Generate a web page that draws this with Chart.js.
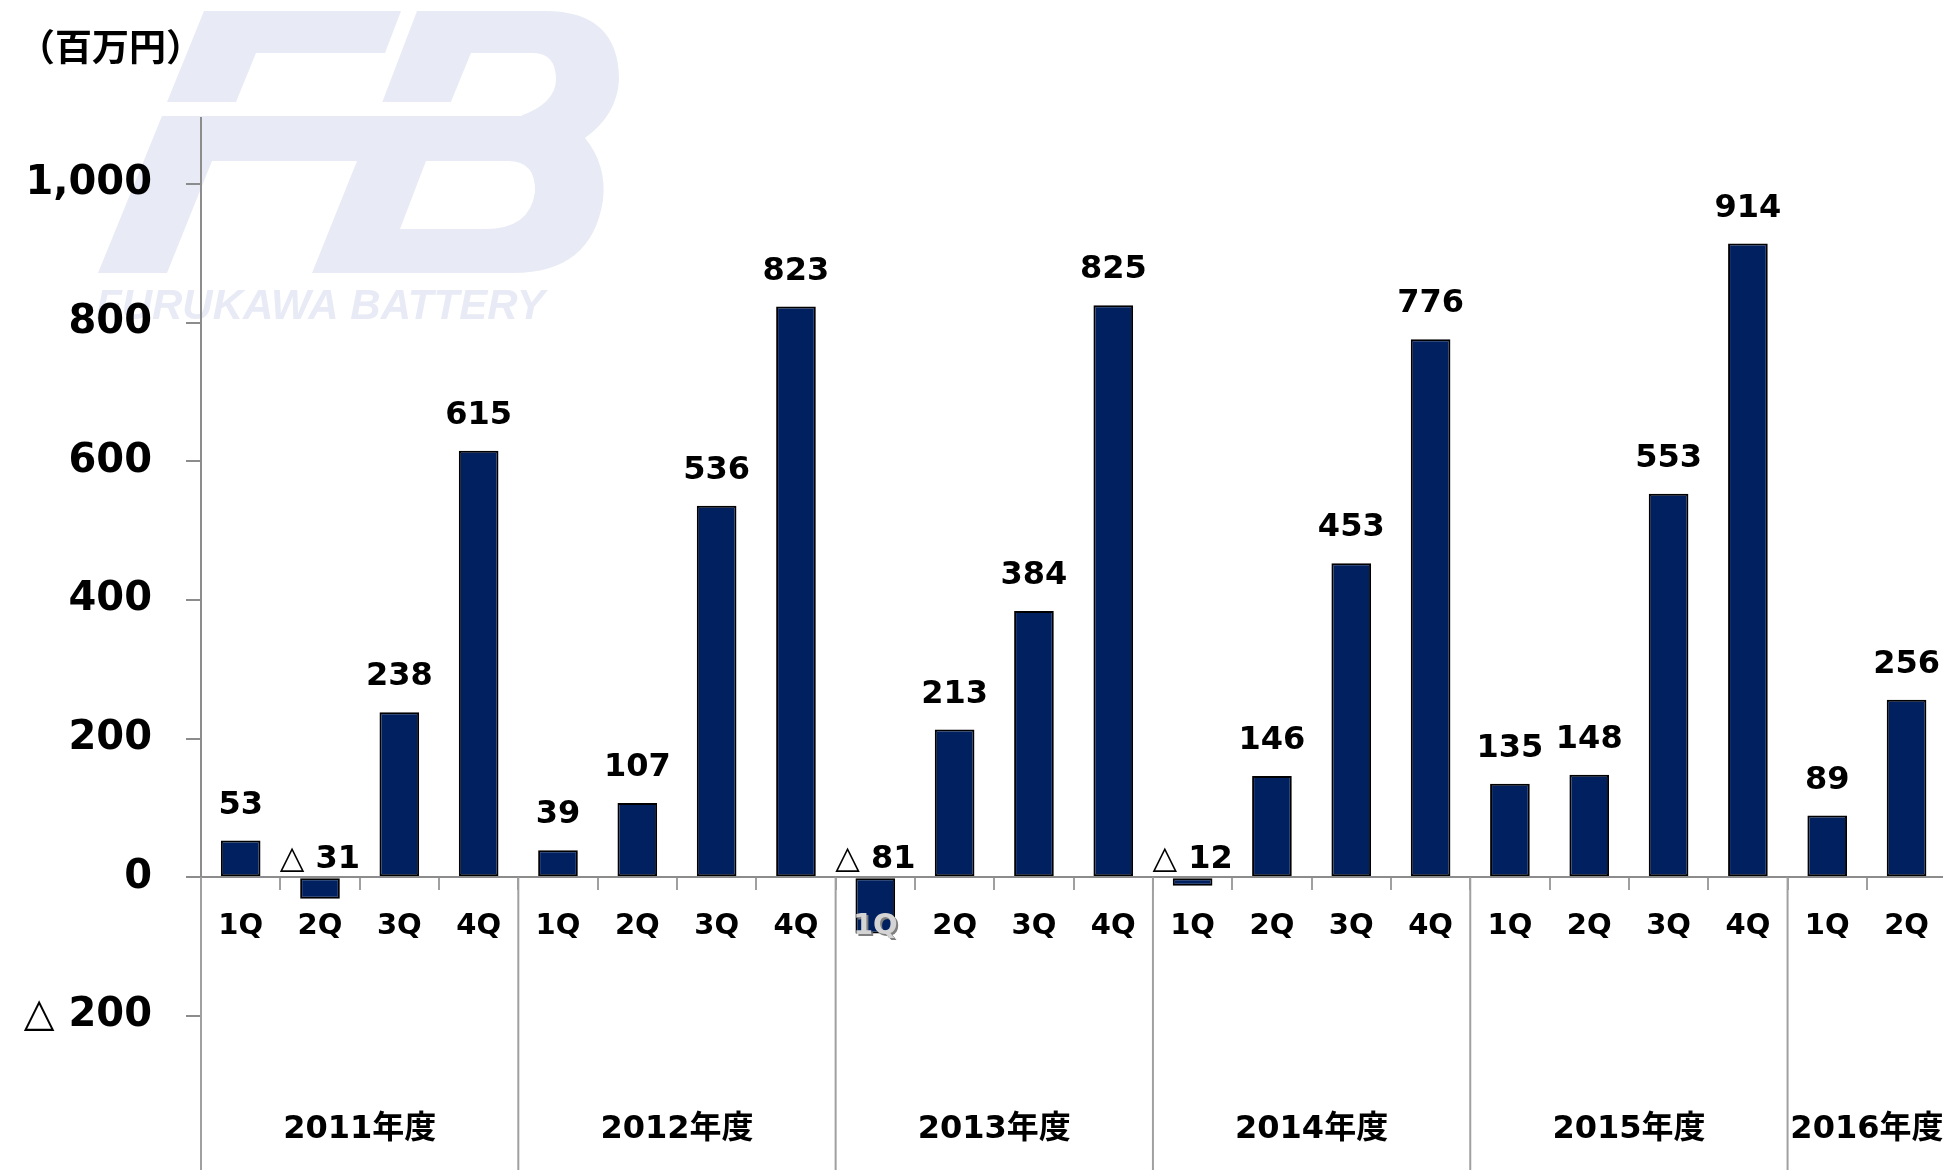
<!DOCTYPE html>
<html lang="ja">
<head>
<meta charset="utf-8">
<title>四半期別 営業利益</title>
<script src="https://cdn.jsdelivr.net/npm/chart.js@4.4.1/dist/chart.umd.min.js"></script>
<style>
  html, body { margin: 0; padding: 0; background: #fff; overflow: hidden; }
  #wrap { position: relative; width: 1949px; height: 1170px; }
</style>
</head>
<body>
<div id="wrap"><canvas id="profitChart" width="1949" height="1170"></canvas></div>
<script>
// --- data ---
const quarters = [
  "1Q", "2Q", "3Q", "4Q",
  "1Q", "2Q", "3Q", "4Q",
  "1Q", "2Q", "3Q", "4Q",
  "1Q", "2Q", "3Q", "4Q",
  "1Q", "2Q", "3Q", "4Q",
  "1Q", "2Q"
];
const fiscalYears = ["2011年度", "2012年度", "2013年度", "2014年度", "2015年度", "2016年度"];
const quartersPerYear = [4, 4, 4, 4, 4, 2];
const profit = [
  53, -31, 238, 615,
  39, 107, 536, 823,
  -81, 213, 384, 825,
  -12, 146, 453, 776,
  135, 148, 553, 914,
  89, 256
];
const yTicks = [-200, 0, 200, 400, 600, 800, 1000];
const unitLabel = "（百万円）";
const logoText = "FURUKAWA BATTERY";

// --- styles ---
const FONT = '"DejaVu Sans", "Noto Sans CJK JP", sans-serif';
const barColor = "#002060";
const axisColor = "#8c8c8c";
const logoColor = "#e8ebf5";

const minusText = (v) => (v < 0 ? "△ " + Math.abs(v) : v.toLocaleString("en-US"));

// background logo (decoration only)
function drawLogo(ctx) {
  ctx.save();
  ctx.fillStyle = logoColor;
  ctx.beginPath();
  ctx.moveTo(204, 11); ctx.lineTo(401, 11); ctx.lineTo(385, 53);
  ctx.lineTo(256, 53); ctx.lineTo(236, 102); ctx.lineTo(167, 102);
  ctx.closePath(); ctx.fill();

  ctx.beginPath();
  ctx.moveTo(98, 273); ctx.lineTo(162, 116); ctx.lineTo(377, 116);
  ctx.lineTo(417, 11); ctx.lineTo(545, 11);
  ctx.quadraticCurveTo(619, 11, 619, 80);
  ctx.quadraticCurveTo(617, 115, 585, 138);
  ctx.quadraticCurveTo(607, 165, 603, 200);
  ctx.quadraticCurveTo(592, 273, 513, 273);
  ctx.lineTo(312, 273); ctx.lineTo(357, 161); ctx.lineTo(212, 161);
  ctx.lineTo(167, 273);
  ctx.closePath(); ctx.fill();

  ctx.fillStyle = "#fff";
  ctx.fillRect(0, 102, 522, 14);
  ctx.beginPath();
  ctx.moveTo(450, 104); ctx.lineTo(471, 53); ctx.lineTo(533, 53);
  ctx.quadraticCurveTo(556, 53, 556, 80);
  ctx.quadraticCurveTo(555, 104, 520, 116); ctx.lineTo(445, 116);
  ctx.closePath(); ctx.fill();
  ctx.beginPath();
  ctx.moveTo(426, 161); ctx.lineTo(508, 161);
  ctx.quadraticCurveTo(536, 161, 535, 192);
  ctx.quadraticCurveTo(530, 229, 485, 229); ctx.lineTo(400, 229);
  ctx.closePath(); ctx.fill();

  ctx.fillStyle = logoColor;
  ctx.font = 'italic bold 42px "Liberation Sans", sans-serif';
  ctx.textBaseline = "alphabetic";
  ctx.fillText(logoText, 96, 319);
  ctx.restore();
}

const backdrop = {
  id: "backdrop",
  beforeDraw(chart) {
    const ctx = chart.ctx;
    drawLogo(ctx);
    ctx.save();
    ctx.font = 'bold 37px "Noto Sans CJK JP", sans-serif';
    ctx.fillStyle = "#000";
    ctx.textBaseline = "middle";
    ctx.fillText(unitLabel, 18, 47);
    ctx.restore();
  }
};

const barLabels = {
  id: "barLabels",
  afterDatasetsDraw(chart) {
    const { ctx } = chart;
    const zeroY = chart.scales.y.getPixelForValue(0);
    const meta = chart.getDatasetMeta(0);
    ctx.save();
    ctx.font = "bold 32px " + FONT;
    ctx.fillStyle = "#000";
    ctx.textAlign = "center";
    ctx.textBaseline = "alphabetic";
    meta.data.forEach((bar, i) => {
      const v = profit[i];
      const ty = v < 0 ? zeroY - 9 : bar.y - 27;
      ctx.fillText(minusText(v), bar.x, ty);
    });
    ctx.restore();
  }
};

// year dividers and fiscal-year captions under the quarter labels
const yearAxis = {
  id: "yearAxis",
  afterDraw(chart) {
    const { ctx, scales: { x, y }, chartArea } = chart;
    const zeroY = y.getPixelForValue(0);
    const bottom = chart.height;
    ctx.save();

    // quarter labels hidden by a negative bar are shown again in light grey
    const items = x.getLabelItems(chartArea);
    const meta = chart.getDatasetMeta(0);
    items.forEach((it, i) => {
      const bar = meta.data[i];
      if (!bar || bar.y < zeroY + 30) return;
      const [tx, ty] = it.options.translation;
      ctx.font = it.font.string;
      ctx.textAlign = it.options.textAlign;
      ctx.textBaseline = it.options.textBaseline;
      ctx.fillStyle = "#7f7f7f";
      ctx.fillText(it.label, tx + 2, ty + it.textOffset + 2);
      ctx.fillStyle = "#d4d4d4";
      ctx.fillText(it.label, tx, ty + it.textOffset);
    });

    ctx.strokeStyle = "#a0a0a0";
    ctx.lineWidth = 2;
    ctx.beginPath();
    ctx.moveTo(chartArea.left, zeroY);
    ctx.lineTo(chartArea.left, bottom);
    ctx.font = "bold 32px " + FONT;
    ctx.fillStyle = "#000";
    ctx.textAlign = "center";
    ctx.textBaseline = "middle";
    let start = 0;
    fiscalYears.forEach((label, k) => {
      const end = start + quartersPerYear[k] - 1;
      const cx = (x.getPixelForValue(start) + x.getPixelForValue(end)) / 2;
      ctx.fillText(label, cx, 1130);
      if (end < quarters.length - 1) {
        const dx = (x.getPixelForValue(end) + x.getPixelForValue(end + 1)) / 2;
        ctx.moveTo(dx, zeroY);
        ctx.lineTo(dx, bottom);
      }
      start = end + 1;
    });
    ctx.stroke();
    ctx.restore();
  }
};

const ctx = document.getElementById("profitChart").getContext("2d");
new Chart(ctx, {
  type: "bar",
  data: {
    labels: quarters,
    datasets: [{
      label: "営業利益",
      data: profit,
      backgroundColor: barColor,
      borderColor: "#000",
      borderWidth: 2,
      borderSkipped: false,
      barPercentage: 0.5,
      categoryPercentage: 1.0
    }]
  },
  options: {
    responsive: false,
    animation: false,
    layout: { padding: { top: 118, bottom: 154, left: 0, right: 1 } },
    scales: {
      x: {
        type: "category",
        position: { y: 0 },
        offset: true,
        grid: { offset: true, drawOnChartArea: false, tickLength: 12, color: "#a0a0a0", lineWidth: 2 },
        border: { color: axisColor, width: 2, z: 1 },
        ticks: {
          autoSkip: false,
          maxRotation: 0,
          padding: 20,
          color: "#000",
          font: { family: FONT, size: 29, weight: "bold" }
        }
      },
      y: {
        min: -200,
        max: 1095,
        afterBuildTicks: (scale) => { scale.ticks = yTicks.map((v) => ({ value: v })); },
        afterFit: (scale) => { scale.width = 201; },
        grid: { drawOnChartArea: false, tickLength: 15, color: axisColor, lineWidth: 2 },
        border: { color: axisColor, width: 2 },
        ticks: {
          padding: 34,
          color: "#000",
          font: { family: FONT, size: 40, weight: "bold" },
          callback: (v) => minusText(v)
        }
      }
    },
    plugins: { legend: { display: false }, tooltip: { enabled: false } }
  },
  plugins: [backdrop, barLabels, yearAxis]
});
</script>
</body>
</html>
